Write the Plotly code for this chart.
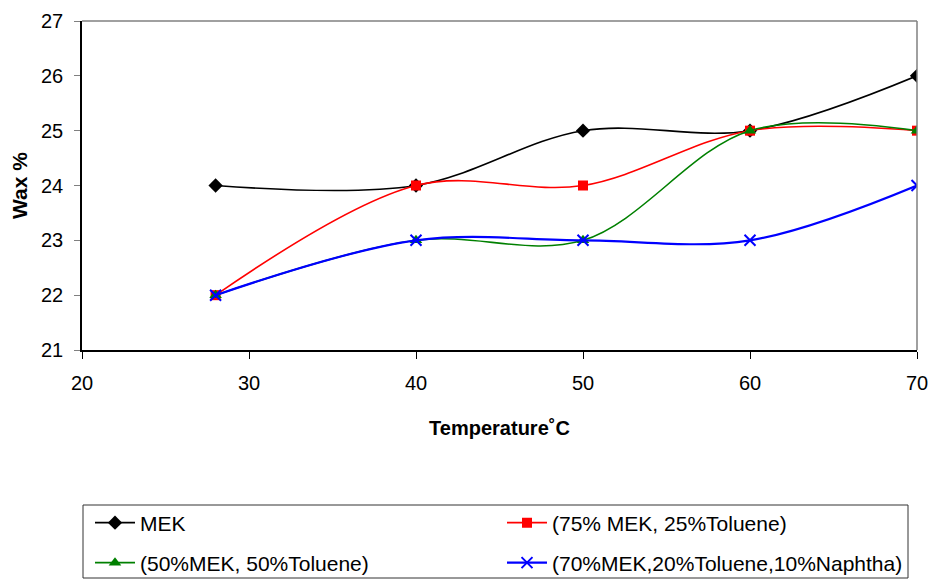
import plotly.graph_objects as go

temperature = [28, 40, 50, 60, 70]
wax_mek = [24, 24, 25, 25, 26]
wax_mek75_tol25 = [22, 24, 24, 25, 25]
wax_mek50_tol50 = [22, 23, 23, 25, 25]
wax_mek70_tol20_nap10 = [22, 23, 23, 23, 24]

# name, values, colour, marker symbol, marker size, line width, legend row
series = [
    ("MEK", wax_mek, "black", "diamond", 11, 1.6, "legend"),
    ("(75% MEK, 25%Toluene)", wax_mek75_tol25, "red", "square", 10, 1.6, "legend"),
    ("(50%MEK, 50%Toluene)", wax_mek50_tol50, "green", "triangle-up", 11, 1.6, "legend2"),
    ("(70%MEK,20%Toluene,10%Naphtha)", wax_mek70_tol20_nap10, "blue", "x-thin-open", 11, 2.2, "legend2"),
]

fig = go.Figure()
for name, ys, color, symbol, size, width, leg in series:
    marker = dict(symbol=symbol, size=size, color=color)
    if symbol.startswith("x-thin"):
        marker["line"] = dict(color=color, width=2)
    fig.add_trace(go.Scatter(
        x=temperature, y=ys, name=name, mode="lines+markers",
        line=dict(color=color, width=width, shape="spline", smoothing=1.0),
        marker=marker, legend=leg,
    ))

font_family = "Liberation Sans, Arial, sans-serif"

# plot area spans 82..917 px horizontally and 21..350 px vertically
PX_L, PX_R, PX_T, PX_B = 82, 917, 21, 350


def px_x(px):
    return (px - PX_L) / (PX_R - PX_L)


def px_y(py):
    return (PX_B - py) / (PX_B - PX_T)


legend_common = dict(
    orientation="h", xanchor="left", yanchor="middle",
    entrywidth=357, entrywidthmode="pixels",
    borderwidth=0, bgcolor="rgba(0,0,0,0)",
    font=dict(size=21, family=font_family), itemwidth=40,
)

fig.update_layout(
    width=933, height=583,
    margin=dict(l=PX_L, r=933 - PX_R, t=PX_T, b=583 - PX_B, autoexpand=False),
    paper_bgcolor="white", plot_bgcolor="white",
    font=dict(family=font_family, size=20, color="black"),
    xaxis=dict(
        range=[20, 70], tickvals=[20, 30, 40, 50, 60, 70],
        showgrid=False, zeroline=False,
        showline=True, linecolor="black", linewidth=1.5,
        ticks="outside", ticklen=7, tickcolor="black", tickwidth=1,
        ticklabelstandoff=7,
        tickfont=dict(size=20),
        title=dict(text="<b>Temperature˚C</b>", font=dict(size=20), standoff=28),
    ),
    yaxis=dict(
        range=[21, 27], tickvals=[21, 22, 23, 24, 25, 26, 27],
        showgrid=False, zeroline=False,
        showline=True, linecolor="black", linewidth=1.5,
        ticks="outside", ticklen=6, tickcolor="gray", tickwidth=1,
        ticklabelstandoff=7,
        tickfont=dict(size=20),
        title=dict(text="<b>Wax %</b>", font=dict(size=21), standoff=8),
    ),
    legend=dict(x=px_x(90), y=px_y(523), **legend_common),
    legend2=dict(x=px_x(90), y=px_y(563), **legend_common),
    showlegend=True,
)

# light frame on the top and right sides of the plotting area
fig.add_shape(type="line", xref="paper", yref="paper", x0=0, x1=1, y0=1, y1=1,
              line=dict(color="gray", width=1.5))
fig.add_shape(type="line", xref="paper", yref="paper", x0=1, x1=1, y0=0, y1=1,
              line=dict(color="gray", width=1.5))
# legend frame around both legend rows
fig.add_shape(type="rect", xref="paper", yref="paper",
              x0=px_x(83), x1=px_x(908), y0=px_y(578), y1=px_y(505),
              line=dict(color="#333333", width=1), layer="below")

fig.write_html("out.html")
